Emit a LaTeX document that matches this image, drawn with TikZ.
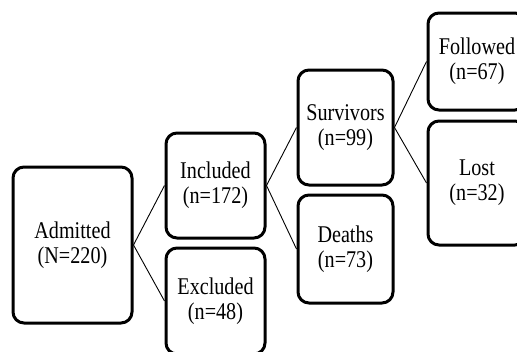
\documentclass[tikz,border=0pt]{standalone}
\usepackage{fontspec}
\setmainfont[FakeStretch=0.84]{Liberation Serif}
\usetikzlibrary{positioning}

\begin{document}
\begin{tikzpicture}[% styles shared by all boxes, sizes given per box
      every node/.style={
        align=center,     % so that "\\" breaks the line
        font=\fontsize{24}{25}\selectfont
      },
      box/.style={rectangle,rounded corners=11pt,line width=3pt,draw=black,fill=white,inner sep=0pt},
      link/.style={draw,line width=0.9pt}
    ]
    \useasboundingbox (0,0) rectangle (517pt,-351pt);
    \node[box,minimum width=119pt,minimum height=156pt](Adm) at (72.5pt,-245pt){Admitted\\(N=220)};
    \node[box,minimum width=99pt,minimum height=105pt](Inc)[right=31pt of Adm,yshift=59.5pt]{Included\\(n=172)};
    \node[box,minimum width=99pt,minimum height=106pt](Exc)[below=7pt of Inc]{Excluded\\(n=48)};
    \node[box,minimum width=95pt,minimum height=115pt](Sur)[right=30pt of Inc,yshift=58pt]{Survivors\\(n=99)};
    \node[box,minimum width=95pt,minimum height=108pt](Dea)[below=7pt of Sur]{Deaths\\(n=73)};
    \node[box,minimum width=98pt,minimum height=97pt](Fol)[right=32pt of Sur,yshift=66pt]{Followed\\(n=67)};
    \node[box,minimum width=98pt,minimum height=124pt,anchor=north west](Lost) at ([yshift=-8pt]Fol.south west){Lost\\(n=32)};
    \path[link]
    (Adm.east) -- (Inc.west)
    (Adm.east) -- (Exc.west)
    (Inc.east) -- (Sur.west)
    (Inc.east) -- (Dea.west)
    (Sur.east) -- (Fol.west)
    (Sur.east) -- (Lost.west)
    ;
  \end{tikzpicture}
\end{document}
